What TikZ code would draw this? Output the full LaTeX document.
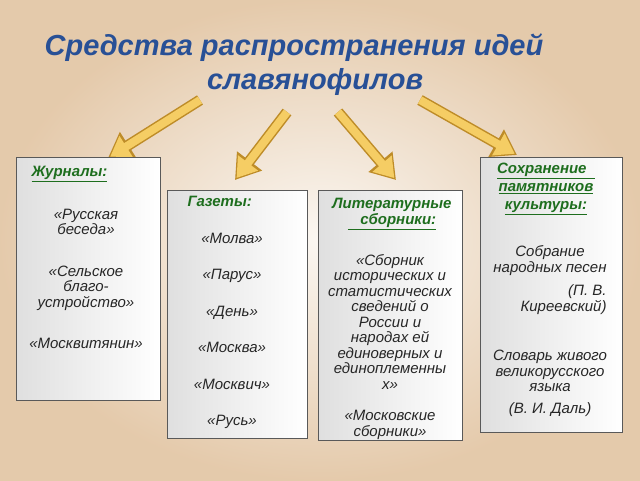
\documentclass[tikz,border=0pt]{standalone}
\usepackage{fontspec}
\setmainfont{Liberation Sans}
\usetikzlibrary{arrows.meta}
\definecolor{ttl}{RGB}{40,80,150}
\definecolor{hd}{RGB}{30,110,30}
\definecolor{par}{RGB}{235,215,190}
\definecolor{arrO}{RGB}{190,140,40}
\definecolor{arrI}{RGB}{245,205,100}
\tikzset{
 box/.style={draw=gray!70!black, line width=0.8pt, left color=gray!25, right color=white},
 txt/.style={font=\fontsize{15pt}{15.5pt}\selectfont\itshape, text=black!85, align=center},
 hdg/.style={font=\fontsize{15pt}{18pt}\selectfont\bfseries\itshape, text=hd},
 bigarrO/.style={line width=11pt, draw=arrO, -{Triangle[length=24pt,width=30pt]}},
 bigarrI/.style={line width=8pt, draw=arrI, shorten >=2.5pt, -{Triangle[length=19pt,width=24pt]}},
}
\begin{document}
\begin{tikzpicture}[x=1pt,y=-1pt]
\useasboundingbox (0,0) rectangle (640,480);
\shade[inner color=white!80!par, outer color=par!85!brown] (0,0) rectangle (640,480);
\node[font=\fontsize{29pt}{30pt}\selectfont\bfseries\itshape, text=ttl] (t1) at (294,48) {Средства распространения идей};
\node[font=\fontsize{29pt}{30pt}\selectfont\bfseries\itshape, text=ttl] (t2) at (315,82) {славянофилов};
% arrows
\coordinate (a1s) at (200,100); \coordinate (a1e) at (108,158);
\coordinate (a2s) at (287,112); \coordinate (a2e) at (235,180);
\coordinate (a3s) at (338,112); \coordinate (a3e) at (396,180);
\coordinate (a4s) at (420,100); \coordinate (a4e) at (517,155);
\foreach \s/\e in {a1s/a1e,a2s/a2e,a3s/a3e,a4s/a4e}{
 \draw[bigarrO] (\s) -- (\e);
 \draw[bigarrI] (\s) -- (\e);
}
% boxes
\node[box, minimum width=144pt, minimum height=243pt, anchor=north west] (b1) at (16,157) {};
\node[box, minimum width=140pt, minimum height=248pt, anchor=north west] (b2) at (167,190) {};
\node[box, minimum width=144pt, minimum height=250pt, anchor=north west] (b3) at (318,190) {};
\node[box, minimum width=142pt, minimum height=275pt, anchor=north west] (b4) at (480,157) {};
% box 1
\node[hdg, anchor=west] (h1) at (28,174) {\underline{Журналы:}};
\node[txt] (c1) at (86,279) {«Русская\\беседа»\\[26pt]«Сельское\\благо-\\устройство»\\[26pt]«Москвитянин»};
% box 2
\node[hdg, anchor=west] (h2) at (184,201) {Газеты:};
\node[txt] (c2) at (232,331) {«Молва»\\[21pt]«Парус»\\[21pt]«День»\\[21pt]«Москва»\\[21pt]«Москвич»\\[21pt]«Русь»};
\node[hdg, align=center] (h3) at (392,214) {Литературные\\[-2pt]\underline{\ \ \ сборники:}};
\node[txt] (c3) at (390,347) {«Сборник\\исторических и\\статистических\\сведений о\\России и\\народах ей\\единоверных и\\единоплеменны\\х»\\[16pt]«Московские\\сборники»};
\node[hdg, align=center] (h4) at (546,189) {\underline{Сохранение\ \ }\\\underline{памятников}\\\underline{культуры:}};
\node[txt] (c4) at (550,331) {Собрание\\народных песен\\[8pt]\hfill(П. В.\\\hfill Киреевский)\\[34pt]Словарь живого\\великорусского\\языка\\[6pt](В. И. Даль)};
\end{tikzpicture}
\end{document}
